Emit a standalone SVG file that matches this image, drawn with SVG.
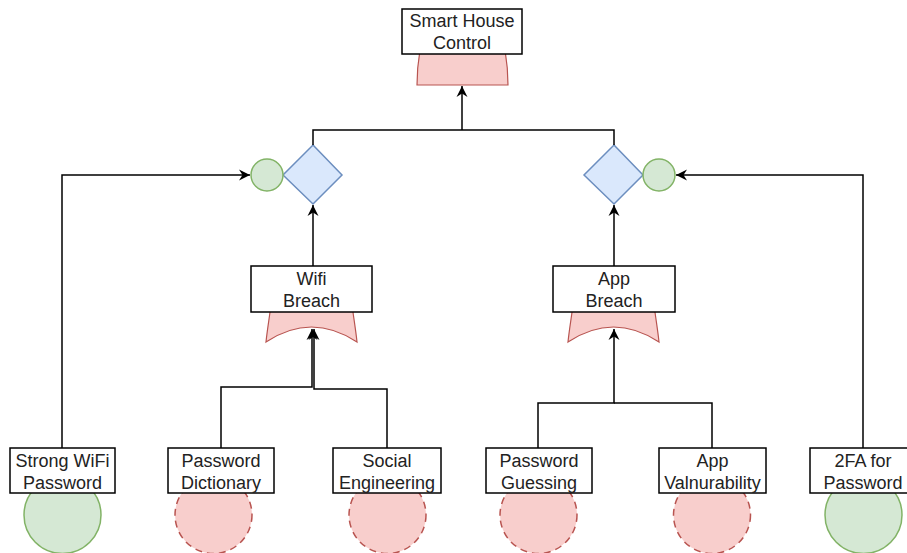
<svg xmlns="http://www.w3.org/2000/svg" width="907" height="553" viewBox="0 0 907 553">
  <style>
    .box { fill: #ffffff; stroke: #000000; stroke-width: 1.5; }
    .lbl { font-family: "Liberation Sans", Arial, sans-serif; font-size: 18px; fill: #222222; text-anchor: middle; }
    .gate { fill: #f8cecc; stroke: #b85450; stroke-width: 1.2; }
    .attack { fill: #f8cecc; stroke: #b85450; stroke-width: 1.5; stroke-dasharray: 7 5; }
    .defense { fill: #d5e8d4; stroke: #82b366; stroke-width: 1.5; }
    .cm { fill: #dae8fc; stroke: #6c8ebf; stroke-width: 1.5; }
    .edge { fill: none; stroke: #000000; stroke-width: 1.5; }
  </style>
  <defs>
    <marker id="arrow" markerUnits="userSpaceOnUse" markerWidth="13" markerHeight="12" refX="11" refY="6" orient="auto">
      <path d="M0,0.5 L11,6 L0,11.5 L3.5,6 Z" fill="#000000"/>
    </marker>
  </defs>

  <!-- root goal with AND gate -->
  <g id="smart-house-control">
    <path class="gate" d="M420,50 C418,62 417,74 417,85 L508,85 C508,74 507,62 505,50 Z"/>
    <rect class="box" x="402" y="9" width="120" height="45"/>
    <text class="lbl" x="462" y="27">Smart House</text>
    <text class="lbl" x="462" y="49">Control</text>
  </g>

  <!-- countermeasure diamonds with their defense circles -->
  <g id="cm-left">
    <polygon class="cm" points="313,145 342,175 313,204 283,175"/>
  </g>
  <g id="def-left">
    <circle class="defense" cx="267" cy="175" r="16"/>
  </g>
  <g id="cm-right">
    <polygon class="cm" points="614,145 643,175 614,204 584,175"/>
  </g>
  <g id="def-right">
    <circle class="defense" cx="659" cy="175" r="16"/>
  </g>

  <!-- sub-goals with OR gates -->
  <g id="wifi-breach">
    <path class="gate" d="M271,305 C269,320 267,332 266,342 Q311.5,312 357,342 C356,332 354,320 352,305 Z"/>
    <rect class="box" x="251" y="266" width="121" height="46"/>
    <text class="lbl" x="311.5" y="285">Wifi</text>
    <text class="lbl" x="311.5" y="307">Breach</text>
  </g>
  <g id="app-breach">
    <path class="gate" d="M573,305 C571,320 569,332 568,342 Q613.5,312 659,342 C658,332 656,320 654,305 Z"/>
    <rect class="box" x="553" y="266" width="122" height="46"/>
    <text class="lbl" x="614" y="285">App</text>
    <text class="lbl" x="614" y="307">Breach</text>
  </g>

  <!-- leaves -->
  <g id="strong-wifi-password">
    <circle class="defense" cx="62.5" cy="515" r="38.5"/>
    <rect class="box" x="10" y="448" width="105" height="45"/>
    <text class="lbl" x="62.5" y="467">Strong WiFi</text>
    <text class="lbl" x="62.5" y="489">Password</text>
  </g>
  <g id="password-dictionary">
    <circle class="attack" cx="213.5" cy="515" r="38.5"/>
    <rect class="box" x="168" y="448" width="106" height="45"/>
    <text class="lbl" x="221" y="467">Password</text>
    <text class="lbl" x="221" y="489">Dictionary</text>
  </g>
  <g id="social-engineering">
    <circle class="attack" cx="387.5" cy="515" r="38.5"/>
    <rect class="box" x="333" y="448" width="108" height="45"/>
    <text class="lbl" x="387" y="467">Social</text>
    <text class="lbl" x="387" y="489">Engineering</text>
  </g>
  <g id="password-guessing">
    <circle class="attack" cx="538.5" cy="515" r="38.5"/>
    <rect class="box" x="486" y="448" width="106" height="45"/>
    <text class="lbl" x="539" y="467">Password</text>
    <text class="lbl" x="539" y="489">Guessing</text>
  </g>
  <g id="app-valnurability">
    <circle class="attack" cx="712" cy="515" r="38.5"/>
    <rect class="box" x="659" y="448" width="107" height="45"/>
    <text class="lbl" x="712.5" y="467">App</text>
    <text class="lbl" x="712.5" y="489">Valnurability</text>
  </g>
  <g id="twofa-password">
    <circle class="defense" cx="863.5" cy="515" r="38.5"/>
    <rect class="box" x="810" y="448" width="106" height="45"/>
    <text class="lbl" x="863" y="467">2FA for</text>
    <text class="lbl" x="863" y="489">Password</text>
  </g>

  <!-- connectors -->
  <g id="connectors">
    <path class="edge" d="M313,145 V130 H614 V145"/>
    <path class="edge" d="M462,130 V86" marker-end="url(#arrow)"/>
    <path class="edge" d="M313,266 V205" marker-end="url(#arrow)"/>
    <path class="edge" d="M614,266 V205" marker-end="url(#arrow)"/>
    <path class="edge" d="M62,448 V175 H250" marker-end="url(#arrow)"/>
    <path class="edge" d="M863,448 V175 H676" marker-end="url(#arrow)"/>
    <path class="edge" d="M221,448 V387 H312 V329" marker-end="url(#arrow)"/>
    <path class="edge" d="M387,448 V389 H314 V329" marker-end="url(#arrow)"/>
    <path class="edge" d="M538,448 V403 H614 V329" marker-end="url(#arrow)"/>
    <path class="edge" d="M712,448 V403 H614"/>
  </g>
</svg>
